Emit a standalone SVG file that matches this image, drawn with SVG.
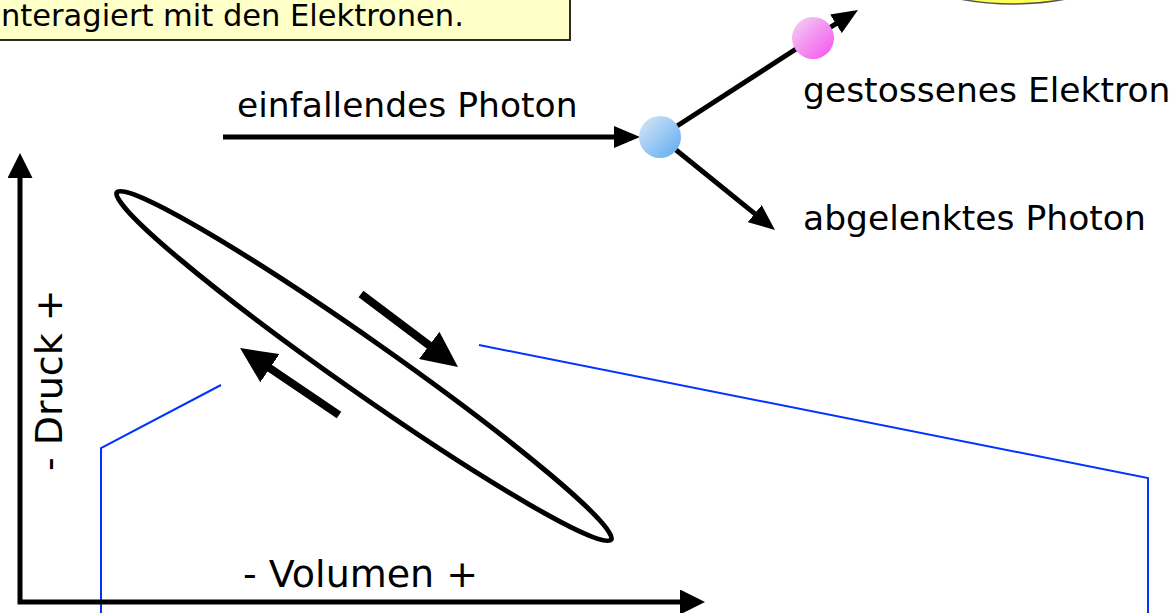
<svg xmlns="http://www.w3.org/2000/svg" width="1176" height="613" viewBox="0 0 1176 613">
  <style>
    .lbl { font-family: "DejaVu Sans", Verdana, sans-serif; fill: #000; }
    .ph { font-size: 34.5px; }
    .pv { font-size: 38px; }
    .thin { fill: none; stroke: #000; stroke-width: 5; }
    .axis { fill: none; stroke: #000; stroke-width: 5; stroke-linejoin: miter; }
    .fat { fill: none; stroke: #000; stroke-width: 8; }
    .callout { fill: none; stroke: #0033ff; stroke-width: 2; }
  </style>
  <defs>
    <marker id="head" viewBox="0 0 26 22" refX="16" refY="11" markerWidth="26" markerHeight="22" markerUnits="userSpaceOnUse" orient="auto">
      <path d="M0,0 L26,11 L0,22 z" fill="#000"/>
    </marker>
    <marker id="axisHead" viewBox="0 0 25 25" refX="12" refY="12.5" markerWidth="25" markerHeight="25" markerUnits="userSpaceOnUse" orient="auto-start-reverse">
      <path d="M0,0 L25,12.5 L0,25 z" fill="#000"/>
    </marker>
    <marker id="bigHead" viewBox="0 0 36 34" refX="16" refY="17" markerWidth="36" markerHeight="34" markerUnits="userSpaceOnUse" orient="auto">
      <path d="M0,0 L36,17 L0,34 z" fill="#000"/>
    </marker>
    <linearGradient id="gBlue" x1="0" y1="0" x2="1" y2="1">
      <stop offset="0" stop-color="#dbe8f5"/>
      <stop offset="1" stop-color="#5aaaf2"/>
    </linearGradient>
    <linearGradient id="gPink" x1="0" y1="0" x2="1" y2="1">
      <stop offset="0" stop-color="#f2d6f0"/>
      <stop offset="1" stop-color="#f54ef2"/>
    </linearGradient>
  </defs>

  <!-- note box, top left -->
  <g id="note">
    <rect x="-5" y="-5" width="575" height="45" fill="#ffffc8" stroke="#2a2a2a" stroke-width="2"/>
    <text class="lbl" x="1" y="26" font-size="30.5">nteragiert mit den Elektronen.</text>
  </g>

  <!-- yellow body at the top edge -->
  <g id="sun">
    <ellipse cx="1013" cy="-96" rx="170" ry="100" fill="#ffff55" stroke="#555" stroke-width="1.5"/>
  </g>

  <!-- connectors -->
  <g id="connectors">
    <line class="thin" x1="223" y1="137" x2="630" y2="137" marker-end="url(#head)"/>
    <line class="thin" x1="660" y1="137" x2="813" y2="38"/>
    <line class="thin" x1="813" y1="38" x2="849.5" y2="15.3" marker-end="url(#head)"/>
    <line class="thin" x1="660" y1="137" x2="767.2" y2="223.7" marker-end="url(#head)"/>
    <!-- callout lines -->
    <polyline class="callout" points="221,385 101,448 101,615"/>
    <polyline class="callout" points="479,345 1148,478 1148,615"/>
    <!-- cycle direction arrows -->
    <line class="fat" x1="361" y1="294" x2="442" y2="355" marker-end="url(#bigHead)"/>
    <line class="fat" x1="339" y1="415" x2="256.6" y2="359.2" marker-end="url(#bigHead)"/>
  </g>

  <!-- scattering picture -->
  <g id="photon-label">
    <text class="lbl ph" x="237" y="117">einfallendes Photon</text>
  </g>
  <g id="photon">
    <circle cx="660" cy="137" r="21" fill="url(#gBlue)"/>
  </g>
  <g id="electron">
    <circle cx="813" cy="38" r="21" fill="url(#gPink)"/>
  </g>
  <g id="electron-label">
    <text class="lbl ph" x="803" y="102">gestossenes Elektron</text>
  </g>
  <g id="scattered-label">
    <text class="lbl ph" x="803" y="230">abgelenktes Photon</text>
  </g>

  <!-- pressure-volume loop -->
  <g id="pv-axes">
    <path class="axis" d="M20,166 L20,602 L692,602" marker-start="url(#axisHead)" marker-end="url(#axisHead)"/>
    <text class="lbl pv" transform="translate(62,471) rotate(-90)">- Druck +</text>
    <text class="lbl pv" x="243" y="587">- Volumen +</text>
  </g>
  <g id="pv-loop">
    <ellipse cx="364" cy="366" rx="302" ry="26" transform="rotate(35.1 364 366)" fill="none" stroke="#000" stroke-width="5"/>
  </g>
</svg>
